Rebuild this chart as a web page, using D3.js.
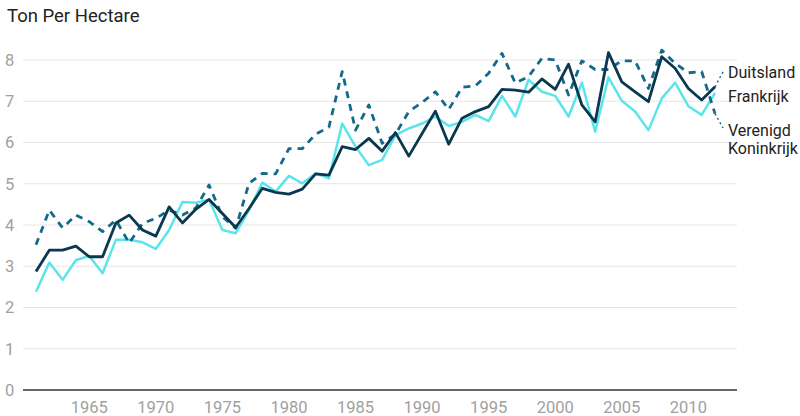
<!DOCTYPE html>
<html lang="nl">
<head>
    <meta charset="UTF-8">
    <title>Ton Per Hectare</title>
    <script src="https://d3js.org/d3.v7.min.js"></script>
    <style>
        body {
            margin: 0;
            background-color: #fff;
            font-family: Roboto, Arial, sans-serif;
        }
        svg {
            display: block;
        }
        .grid line {
            stroke: #e6e6e6;
            stroke-width: 1;
        }
        .tick-label {
            fill: #a0a0a0;
            font-size: 16.5px;
        }
        .series-label {
            fill: #222;
            font-size: 16px;
        }
    </style>
</head>
<body>
    <svg width="800" height="416"></svg>
    <script>
        const years = d3.range(1961, 2013);

        const duitsland = [
            2.87, 3.39, 3.39, 3.49, 3.23, 3.23, 4.05, 4.24, 3.88, 3.73,
            4.44, 4.05, 4.38, 4.62, 4.28, 3.94, 4.40, 4.89, 4.79, 4.75,
            4.87, 5.24, 5.21, 5.90, 5.83, 6.10, 5.79, 6.24, 5.67, 6.22,
            6.76, 5.96, 6.59, 6.75, 6.87, 7.29, 7.27, 7.22, 7.54, 7.29,
            7.90, 6.91, 6.50, 8.18, 7.47, 7.23, 6.99, 8.08, 7.80, 7.31,
            7.03, 7.35
        ];
        const frankrijk = [
            2.38, 3.09, 2.67, 3.15, 3.25, 2.83, 3.64, 3.64, 3.58, 3.42,
            3.88, 4.56, 4.54, 4.61, 3.88, 3.80, 4.36, 5.03, 4.81, 5.19,
            5.01, 5.25, 5.13, 6.46, 5.90, 5.45, 5.58, 6.18, 6.34, 6.46,
            6.63, 6.40, 6.50, 6.67, 6.52, 7.13, 6.63, 7.52, 7.23, 7.13,
            6.63, 7.45, 6.26, 7.58, 7.01, 6.75, 6.30, 7.07, 7.45, 6.88,
            6.67, 7.20
        ];
        const verenigdKoninkrijk = [
            3.52, 4.36, 3.93, 4.24, 4.08, 3.84, 4.12, 3.56, 4.04, 4.16,
            4.36, 4.24, 4.41, 4.97, 4.20, 3.92, 5.01, 5.25, 5.24, 5.85,
            5.85, 6.20, 6.37, 7.72, 6.30, 6.91, 5.98, 6.20, 6.75, 6.97,
            7.23, 6.80, 7.34, 7.37, 7.68, 8.16, 7.44, 7.60, 8.04, 8.00,
            7.15, 7.98, 7.77, 7.77, 7.98, 7.98, 7.31, 8.24, 7.92, 7.69,
            7.72, 6.70
        ];

        const xTicks = [1965, 1970, 1975, 1980, 1985, 1990, 1995, 2000, 2005, 2010];
        const yTicks = [0, 1, 2, 3, 4, 5, 6, 7, 8];

        const svg = d3.select("svg");
        const left = 23, right = 737;

        const x = d3.scaleLinear().domain([1961, 2012]).range([36, 715]);
        const y = d3.scaleLinear().domain([0, 8]).range([390, 60]);

        svg.append("text")
            .attr("x", 7)
            .attr("y", 22)
            .attr("fill", "#222")
            .style("font-size", "18.5px")
            .text("Ton Per Hectare");

        // gridlijnen
        svg.append("g")
            .attr("class", "grid")
            .selectAll("line")
            .data(yTicks.filter(d => d > 0))
            .enter().append("line")
            .attr("x1", left)
            .attr("x2", right)
            .attr("y1", d => y(d))
            .attr("y2", d => y(d));

        svg.append("g")
            .selectAll("text")
            .data(yTicks)
            .enter().append("text")
            .attr("class", "tick-label")
            .attr("x", 5)
            .attr("y", d => y(d))
            .attr("dy", "0.35em")
            .text(d => d);

        svg.append("g")
            .selectAll("text")
            .data(xTicks)
            .enter().append("text")
            .attr("class", "tick-label")
            .attr("x", d => x(d))
            .attr("y", 413)
            .attr("text-anchor", "middle")
            .text(d => d);

        const line = d3.line()
            .x((d, i) => x(years[i]))
            .y(d => y(d));

        const series = [
            { name: "Frankrijk", values: frankrijk, color: "#5be5ea", width: 2.5, dash: null },
            { name: "Verenigd Koninkrijk", values: verenigdKoninkrijk, color: "#14698a", width: 2.8, dash: "7,6" },
            { name: "Duitsland", values: duitsland, color: "#0a3850", width: 2.8, dash: null }
        ];

        svg.append("g")
            .selectAll("path")
            .data(series)
            .enter().append("path")
            .attr("fill", "none")
            .attr("stroke", d => d.color)
            .attr("stroke-width", d => d.width)
            .attr("stroke-dasharray", d => d.dash)
            .attr("stroke-linejoin", "round")
            .attr("d", d => line(d.values));

        // nullijn
        svg.append("line")
            .attr("x1", left)
            .attr("x2", right)
            .attr("y1", y(0))
            .attr("y2", y(0))
            .attr("stroke", "#333")
            .attr("stroke-width", 1.5);

        // verbindingslijntjes naar de labels
        const last = years.length - 1;
        const leaders = [
            { x1: x(2012), y1: y(duitsland[last]), x2: 724, y2: 70 },
            { x1: x(2012), y1: y(verenigdKoninkrijk[last]), x2: 723, y2: 128 }
        ];
        svg.append("g")
            .selectAll("line")
            .data(leaders)
            .enter().append("line")
            .attr("x1", d => d.x1)
            .attr("y1", d => d.y1)
            .attr("x2", d => d.x2)
            .attr("y2", d => d.y2)
            .attr("stroke", "#14698a")
            .attr("stroke-width", 1.5)
            .attr("stroke-dasharray", "2,3");

        const labels = [
            { text: "Duitsland", y: 72 },
            { text: "Frankrijk", y: 96 },
            { text: "Verenigd", y: 130 },
            { text: "Koninkrijk", y: 148 }
        ];
        svg.append("g")
            .selectAll("text")
            .data(labels)
            .enter().append("text")
            .attr("class", "series-label")
            .attr("x", 728)
            .attr("y", d => d.y)
            .attr("dy", "0.35em")
            .text(d => d.text);
    </script>
</body>
</html>
